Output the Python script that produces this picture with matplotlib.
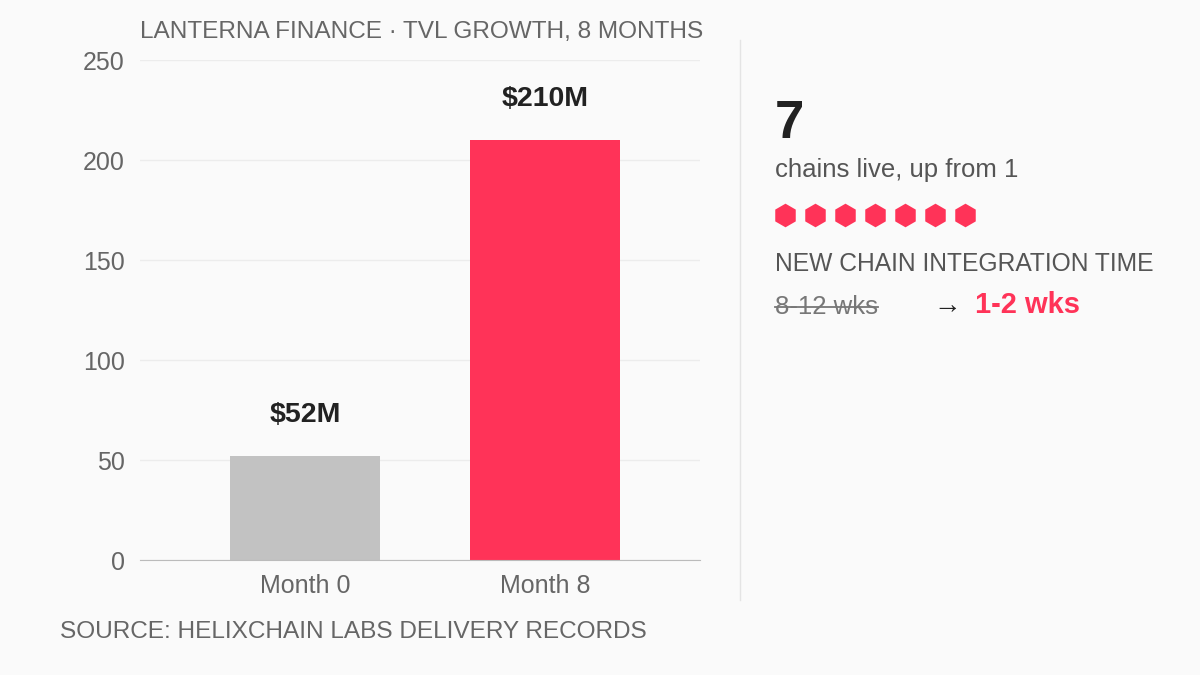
import matplotlib
matplotlib.use("Agg")
import matplotlib.pyplot as plt

months = ["Month 0", "Month 8"]
tvl = [52, 210]
tvl_labels = ["$52M", "$210M"]
bar_colors = ["#c2c2c2", "#ff3358"]
chains_live = 7
chains_before = 1
old_time = "8-12 wks"
new_time = "1-2 wks"

plt.rcParams['font.family'] = ['Liberation Sans', 'DejaVu Sans']
bg = "#fafafa"
red = "#ff3358"

fig = plt.figure(figsize=(12, 6.75), dpi=100, facecolor=bg)
ax = fig.add_axes([140/1200, 115/675, 560/1200, 500/675], facecolor=bg)

x = list(range(len(months)))
ax.bar(x, tvl, width=0.625, color=bar_colors, zorder=2)
for xi, v, lab in zip(x, tvl, tvl_labels):
    ax.text(xi, v + 14, lab, ha="center", va="bottom", fontsize=20.5, fontweight="bold", color="#222222")

ax.set_xlim(-0.6875, 1.646)
ax.set_ylim(0, 250)
ax.set_yticks([0, 50, 100, 150, 200, 250])
ax.set_xticks(x)
ax.set_xticklabels(months)
ax.tick_params(length=0, labelsize=18, colors="#666666", pad=10)
ax.tick_params(axis="y", pad=11)
ax.grid(axis="y", color="#ececec", linewidth=1, zorder=0)
for s in ["top", "right", "left"]:
    ax.spines[s].set_visible(False)
ax.spines["bottom"].set_color("#bbbbbb")

# overlay in pixel coordinates
ov = fig.add_axes([0, 0, 1, 1], facecolor="none")
ov.set_xlim(0, 1200)
ov.set_ylim(675, 0)
ov.axis("off")

ov.text(140, 32, "LANTERNA FINANCE · TVL GROWTH, 8 MONTHS", fontsize=17.6, color="#666666", va="center")
ov.text(60, 632, "SOURCE: HELIXCHAIN LABS DELIVERY RECORDS", fontsize=17.6, color="#666666", va="center")
ov.plot([740, 740], [40, 600], color="#e4e4e4", linewidth=1)

ov.text(775, 124, str(chains_live), fontsize=38, fontweight="bold", color="#222222", va="center")
ov.text(775, 170, f"chains live, up from {chains_before}", fontsize=18.5, color="#555555", va="center")
ov.scatter([785 + 30 * i for i in range(chains_live)], [215] * chains_live,
           marker="h", s=290, color=red, linewidths=0)
ov.text(775, 264, "NEW CHAIN INTEGRATION TIME", fontsize=17.7, color="#555555", va="center")
t = ov.text(775, 307, old_time, fontsize=18.5, color="#777777", va="center")
fig.canvas.draw()
bb = t.get_window_extent().transformed(ov.transData.inverted())
ov.plot([bb.x0, bb.x1], [307, 307], color="#777777", linewidth=1.3)
ov.text(933, 306, "→", fontsize=20, color="#222222", va="center")
ov.text(975, 305, new_time, fontsize=21, fontweight="bold", color=red, va="center")

fig.savefig("out.png", dpi=100, facecolor=bg)
